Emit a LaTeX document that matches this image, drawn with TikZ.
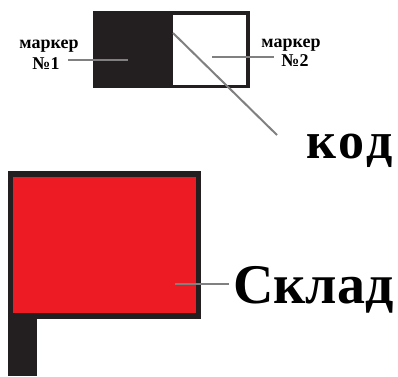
\documentclass[tikz,border=0pt]{standalone}
\usepackage{fontspec}
\setmainfont{Liberation Serif}
\definecolor{blk}{HTML}{231F20}
\definecolor{flagred}{HTML}{ED1C24}
\definecolor{lead}{HTML}{808080}
\begin{document}
\begin{tikzpicture}[x=1pt,y=-1pt,
  leader/.style={draw=lead,line width=2pt},
  small/.style={font=\fontsize{18}{20}\selectfont\bfseries,inner sep=0pt},
  big/.style={font=\fontsize{56}{60}\selectfont\bfseries,inner sep=0pt}]
\useasboundingbox (0,0) rectangle (398,376);
% top marker box
\fill[blk] (93,11) rectangle (250,88);
\fill[white] (173,14.5) rectangle (246,84.5);
% flag
\fill[blk] (8,171) rectangle (201,319);
\fill[flagred] (13,177) rectangle (196,313);
\fill[blk] (8,318) rectangle (37,376);
% texts
\node[small,anchor=base] (m1a) at (49,48) {маркер};
\node[small,anchor=base] (m1b) at (46,69) {№1};
\node[small,anchor=base] (m2a) at (291,47) {маркер};
\node[small,anchor=base] (m2b) at (295,66) {№2};
\node[big,font=\fontsize{52}{56}\selectfont\bfseries\addfontfeature{LetterSpace=6},anchor=base west] (kod) at (306,158) {код};
\node[big,anchor=base west] (sklad) at (233,303) {Склад};
% leader endpoints
\coordinate (p1) at (128,60);
\coordinate (p1s) at (68,60);
\coordinate (p2) at (212,57);
\coordinate (p2e) at (274,57);
\coordinate (pk) at (173,33);
\coordinate (pke) at (277,135);
\coordinate (ps) at (175,284);
\coordinate (pse) at (229,284);
\draw[leader] (p1s) -- (p1);
\draw[leader] (p2) -- (p2e);
\draw[leader] (pk) -- (pke);
\draw[leader] (ps) -- (pse);
\end{tikzpicture}
\end{document}
